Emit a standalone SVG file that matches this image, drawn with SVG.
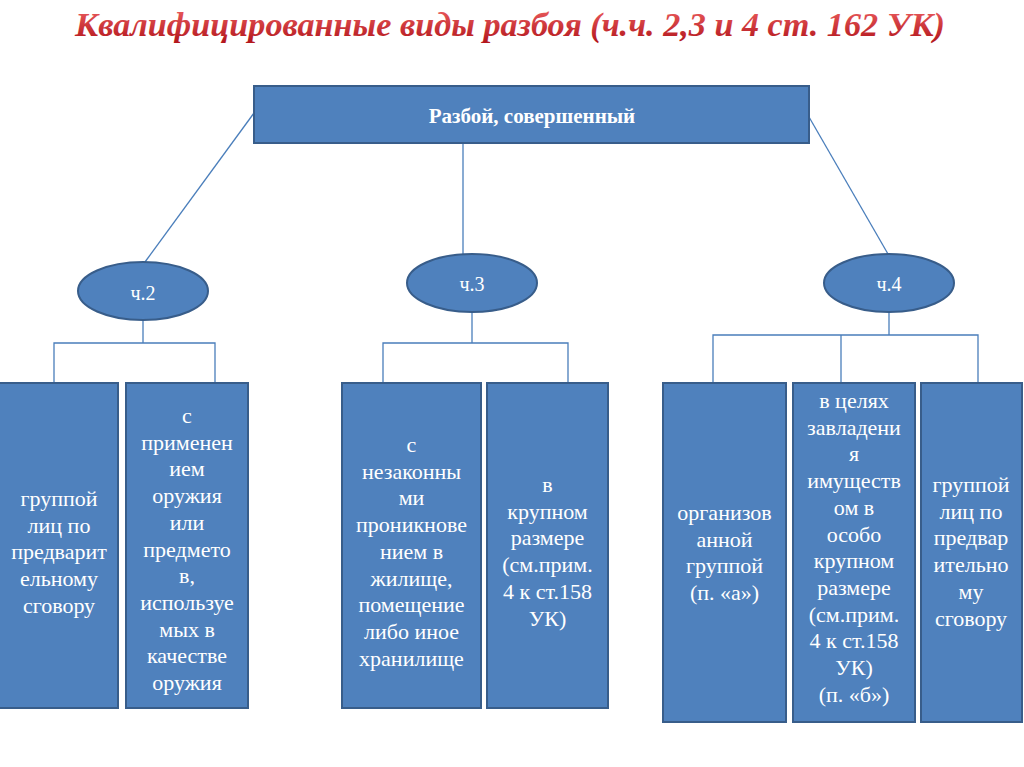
<svg xmlns="http://www.w3.org/2000/svg" width="1024" height="767" viewBox="0 0 1024 767">
<defs>
<linearGradient id="tg" x1="0" y1="10" x2="0" y2="42" gradientUnits="userSpaceOnUse">
<stop offset="0" stop-color="#e8585a"/>
<stop offset="1" stop-color="#b3171d"/>
</linearGradient>
</defs>
<style>
.box{fill:#4f81bd;stroke:#385d8a;stroke-width:2}
.ln{fill:none;stroke:#4a7ebb;stroke-width:1.3}
</style>
<rect width="1024" height="767" fill="#ffffff"/>
<text x="510" y="36" font-family="serif" font-size="33" font-weight="bold" font-style="italic" fill="url(#tg)" text-anchor="middle" textLength="870" lengthAdjust="spacingAndGlyphs">Квалифицированные виды разбоя (ч.ч. 2,3 и 4 ст. 162 УК)</text>

<g id="connectors">
<line class="ln" x1="254" y1="113" x2="145" y2="262"/>
<line class="ln" x1="463" y1="144" x2="463" y2="255"/>
<line class="ln" x1="809" y1="117" x2="888" y2="254"/>
<polyline class="ln" points="143,320 143,343"/>
<polyline class="ln" points="54,383 54,343 215,343 215,383"/>
<polyline class="ln" points="472,312 472,343"/>
<polyline class="ln" points="383,383 383,343 568,343 568,383"/>
<polyline class="ln" points="889,312 889,335"/>
<polyline class="ln" points="713,383 713,335 978,335 978,383"/>
<line class="ln" x1="841" y1="335" x2="841" y2="383"/>
</g>

<g id="root">
<rect class="box" x="254" y="86" width="555" height="57"/>
<text x="532" y="123" font-family="serif" font-size="21" font-weight="bold" fill="#ffffff" text-anchor="middle">Разбой, совершенный</text>
</g>
<g id="ch2">
<ellipse class="box" cx="143" cy="291" rx="65" ry="29"/>
<text x="143" y="300" font-family="serif" font-size="20" fill="#ffffff" text-anchor="middle">ч.2</text>
</g>
<g id="ch3">
<ellipse class="box" cx="472" cy="283" rx="65" ry="29"/>
<text x="472" y="291" font-family="serif" font-size="20" fill="#ffffff" text-anchor="middle">ч.3</text>
</g>
<g id="ch4">
<ellipse class="box" cx="889" cy="283" rx="65" ry="29"/>
<text x="889" y="291" font-family="serif" font-size="20" fill="#ffffff" text-anchor="middle">ч.4</text>
</g>
<g id="b1">
<rect class="box" x="-1" y="383" width="119" height="325"/>
<text x="59" y="506" font-family="serif" font-size="22" fill="#ffffff" text-anchor="middle"><tspan x="59">группой</tspan><tspan x="59" dy="26.7">лиц по</tspan><tspan x="59" dy="26.7">предварит</tspan><tspan x="59" dy="26.7">ельному</tspan><tspan x="59" dy="26.7">сговору</tspan></text>
</g>
<g id="b2">
<rect class="box" x="126" y="383" width="122" height="325"/>
<text x="187" y="423" font-family="serif" font-size="22" fill="#ffffff" text-anchor="middle"><tspan x="187">с</tspan><tspan x="187" dy="26.7">применен</tspan><tspan x="187" dy="26.7">ием</tspan><tspan x="187" dy="26.7">оружия</tspan><tspan x="187" dy="26.7">или</tspan><tspan x="187" dy="26.7">предмето</tspan><tspan x="187" dy="26.7">в,</tspan><tspan x="187" dy="26.7">используе</tspan><tspan x="187" dy="26.7">мых в</tspan><tspan x="187" dy="26.7">качестве</tspan><tspan x="187" dy="26.7">оружия</tspan></text>
</g>
<g id="b3">
<rect class="box" x="342" y="383" width="139" height="325"/>
<text x="411.5" y="452" font-family="serif" font-size="22" fill="#ffffff" text-anchor="middle"><tspan x="411.5">с</tspan><tspan x="411.5" dy="26.7">незаконны</tspan><tspan x="411.5" dy="26.7">ми</tspan><tspan x="411.5" dy="26.7">проникнове</tspan><tspan x="411.5" dy="26.7">нием в</tspan><tspan x="411.5" dy="26.7">жилище,</tspan><tspan x="411.5" dy="26.7">помещение</tspan><tspan x="411.5" dy="26.7">либо иное</tspan><tspan x="411.5" dy="26.7">хранилище</tspan></text>
</g>
<g id="b4">
<rect class="box" x="487" y="383" width="121" height="325"/>
<text x="547.5" y="492" font-family="serif" font-size="22" fill="#ffffff" text-anchor="middle"><tspan x="547.5">в</tspan><tspan x="547.5" dy="26.7">крупном</tspan><tspan x="547.5" dy="26.7">размере</tspan><tspan x="547.5" dy="26.7">(см.прим.</tspan><tspan x="547.5" dy="26.7">4 к ст.158</tspan><tspan x="547.5" dy="26.7">УК)</tspan></text>
</g>
<g id="b5">
<rect class="box" x="663" y="383" width="123" height="339"/>
<text x="724.5" y="520" font-family="serif" font-size="22" fill="#ffffff" text-anchor="middle"><tspan x="724.5">организов</tspan><tspan x="724.5" dy="26.7">анной</tspan><tspan x="724.5" dy="26.7">группой</tspan><tspan x="724.5" dy="26.7">(п. «а»)</tspan></text>
</g>
<g id="b6">
<rect class="box" x="793" y="383" width="122" height="339"/>
<text x="854" y="408" font-family="serif" font-size="22" fill="#ffffff" text-anchor="middle"><tspan x="854">в целях</tspan><tspan x="854" dy="26.7">завладени</tspan><tspan x="854" dy="26.7">я</tspan><tspan x="854" dy="26.7">имуществ</tspan><tspan x="854" dy="26.7">ом в</tspan><tspan x="854" dy="26.7">особо</tspan><tspan x="854" dy="26.7">крупном</tspan><tspan x="854" dy="26.7">размере</tspan><tspan x="854" dy="26.7">(см.прим.</tspan><tspan x="854" dy="26.7">4 к ст.158</tspan><tspan x="854" dy="26.7">УК)</tspan><tspan x="854" dy="26.7">(п. «б»)</tspan></text>
</g>
<g id="b7">
<rect class="box" x="921" y="383" width="101" height="339"/>
<text x="971" y="492" font-family="serif" font-size="22" fill="#ffffff" text-anchor="middle"><tspan x="971">группой</tspan><tspan x="971" dy="26.7">лиц по</tspan><tspan x="971" dy="26.7">предвар</tspan><tspan x="971" dy="26.7">ительно</tspan><tspan x="971" dy="26.7">му</tspan><tspan x="971" dy="26.7">сговору</tspan></text>
</g>
</svg>
